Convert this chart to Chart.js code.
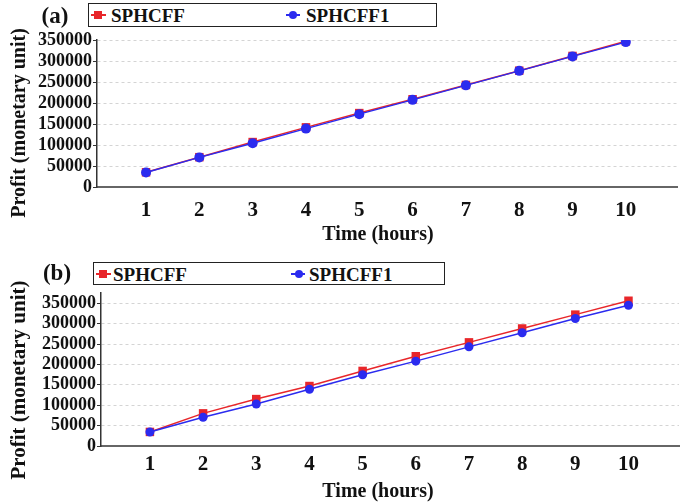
<!DOCTYPE html>
<html><head><meta charset="utf-8">
<script src="https://cdn.jsdelivr.net/npm/chart.js@4.4.0/dist/chart.umd.min.js"></script>
<style>
body{margin:0;background:#fff;}
#wrap{position:relative;width:685px;height:502px;overflow:hidden;background:#fff;font-family:"Liberation Serif","Times New Roman",serif;font-weight:bold;color:#111;}
canvas{position:absolute;left:0;}
.lbl{position:absolute;white-space:nowrap;transform:translate(-50%,-50%);line-height:1;}
.ytitle{position:absolute;transform:translate(-50%,-50%) rotate(-90deg);white-space:nowrap;line-height:1;}
.legend{position:absolute;border:1.5px solid #222;box-sizing:border-box;background:#fff;}
.txt{position:absolute;top:50%;transform:translateY(-50%);font-size:19px;line-height:1;white-space:nowrap;}
.ln{position:absolute;top:50%;height:2px;margin-top:-1px;}
.sq{position:absolute;top:50%;width:8px;height:8px;margin-top:-4px;margin-left:-4px;background:#e8262a;}
.ci{position:absolute;top:50%;width:8px;height:8px;margin-top:-4px;margin-left:-4px;background:#2b2bef;border-radius:50%;}
</style>
</head><body>
<div id="wrap">
  <canvas id="ca" width="685" height="250" style="top:0"></canvas>
  <canvas id="cb" width="685" height="252" style="top:250px"></canvas>

  <div class="lbl" style="left:55px;top:15px;font-size:23px;">(a)</div>
  <div class="lbl" style="left:57px;top:272px;font-size:23px;">(b)</div>

  <div class="ytitle" style="left:18px;top:123px;font-size:20px;">Profit (monetary unit)</div>
  <div class="ytitle" style="left:18px;top:380px;font-size:21px;">Profit (monetary unit)</div>
  <div class="lbl" style="left:378px;top:233px;font-size:20px;">Time (hours)</div>
  <div class="lbl" style="left:378px;top:490px;font-size:20px;">Time (hours)</div>

  <div class="legend" style="left:88px;top:3px;width:349px;height:24px;">
    <div class="ln" style="left:2px;width:15px;background:#e8262a;"></div><div class="sq" style="left:9px;"></div>
    <div class="txt" style="left:22px;">SPHCFF</div>
    <div class="ln" style="left:197px;width:14px;background:#2b2bef;"></div><div class="ci" style="left:204px;"></div>
    <div class="txt" style="left:217px;">SPHCFF1</div>
  </div>
  <div class="legend" style="left:93px;top:262px;width:352px;height:23px;">
    <div class="ln" style="left:2px;width:15px;background:#e8262a;"></div><div class="sq" style="left:9px;"></div>
    <div class="txt" style="left:19px;">SPHCFF</div>
    <div class="ln" style="left:197px;width:14px;background:#2b2bef;"></div><div class="ci" style="left:205px;"></div>
    <div class="txt" style="left:215px;">SPHCFF1</div>
  </div>
</div>
<script>
const hours = [1, 2, 3, 4, 5, 6, 7, 8, 9, 10];
const yTicks = [0, 50000, 100000, 150000, 200000, 250000, 300000, 350000];
// Panel (a)
const sphcffA  = [35000, 71000, 107000, 142000, 176000, 209000, 243000, 277000, 312000, 347000];
const sphcff1A = [34500, 70500, 104000, 139000, 173500, 207500, 242000, 276500, 311000, 345000];
// Panel (b)
const sphcffB  = [34500, 80000, 115000, 147000, 184000, 220000, 254000, 288000, 322000, 356000];
const sphcff1B = [34300, 70500, 103000, 139000, 174500, 208000, 243000, 277500, 312500, 345000];

const RED = '#e8262a', BLUE = '#2b2bef';
const FONT = '"Liberation Serif","Times New Roman",serif';

function makeChart(id, red, blue, cfg) {
  return new Chart(document.getElementById(id), {
    type: 'line',
    data: {
      datasets: [
        { label: 'SPHCFF', data: hours.map((h, i) => ({ x: h, y: red[i] })),
          borderColor: RED, backgroundColor: RED, borderWidth: 1.5,
          pointStyle: 'rect', pointRadius: 6, pointBorderWidth: 0, order: 2 },
        { label: 'SPHCFF1', data: hours.map((h, i) => ({ x: h, y: blue[i] })),
          borderColor: BLUE, backgroundColor: BLUE, borderWidth: 1.5,
          pointStyle: 'circle', pointRadius: cfg.circR, pointBorderWidth: 0, order: 1 }
      ]
    },
    options: {
      responsive: false, animation: false, events: [],
      layout: { padding: { left: 0, right: cfg.padR, top: cfg.padT, bottom: 0 } },
      plugins: { legend: { display: false }, tooltip: { enabled: false } },
      scales: {
        x: {
          type: 'linear', min: cfg.xMin, max: cfg.xMax,
          afterBuildTicks: s => { s.ticks = hours.map(v => ({ value: v })); },
          afterFit: s => { s.height = cfg.xH; },
          grid: { display: false, drawTicks: false },
          border: { display: true, color: '#666', width: 2 },
          ticks: { padding: cfg.xPad, color: '#111', autoSkip: false, maxRotation: 0,
                   callback: v => String(v),
                   font: { family: FONT, size: 21, weight: 'bold' } }
        },
        y: {
          min: 0, max: cfg.yMax,
          afterBuildTicks: s => { s.ticks = yTicks.map(v => ({ value: v })); },
          afterFit: s => { s.width = cfg.yW; },
          grid: { color: c => (c.tick && c.tick.value === 0) ? 'rgba(0,0,0,0)' : '#d4d4d4',
                  lineWidth: 1, drawTicks: true, tickLength: 4, tickColor: '#333', tickBorderDash: [] },
          border: { display: true, color: '#333', width: 1.5, dash: [3, 3] },
          ticks: { padding: 1, color: '#111', autoSkip: false, callback: v => String(v),
                   font: { family: FONT, size: 18, weight: 'bold' } }
        }
      }
    }
  });
}

makeChart('ca', sphcffA, sphcff1A, { padR: 8, padT: 40, xMin: 0.08, xMax: 10.96, xH: 63, xPad: 11, yMax: 350000, yW: 97, circR: 5 });
makeChart('cb', sphcffB, sphcff1B, { padR: 3, padT: 43, xMin: 0.08, xMax: 10.95, xH: 56, xPad: 6, yMax: 375000, yW: 101, circR: 4.5 });
</script>
</body></html>
